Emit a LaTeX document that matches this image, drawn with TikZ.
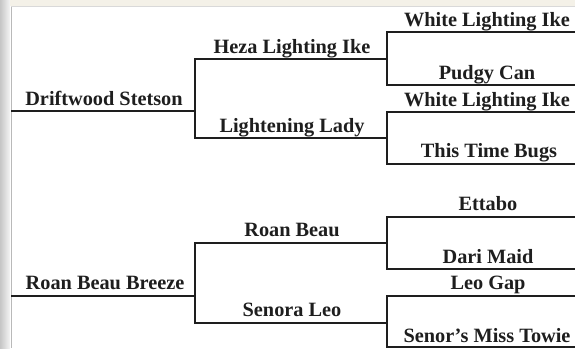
\documentclass[tikz,border=0pt]{standalone}
\usepackage{fontspec}
\setmainfont{Liberation Serif}
\definecolor{ink}{HTML}{1E1E1E}
\definecolor{cream}{HTML}{F4F1E8}
\begin{document}
\begin{tikzpicture}[x=1pt,y=-1pt,
  person/.style={font=\bfseries\fontsize{20.3}{20.3}\selectfont, anchor=base, inner sep=0pt, text=ink},
  ln/.style={line width=2pt, draw=ink, line cap=rect}]
\useasboundingbox (0,0) rectangle (575,348);
% background
\fill[white] (0,0) rectangle (575,348);
\shade[left color=gray!45, right color=gray!8] (0,0) rectangle (10,348);
\fill[cream] (10,0) rectangle (575,6);
\draw[gray!55, line width=0.8pt] (11,6) -- (11,348);
\draw[gray!30, line width=0.6pt] (11,6) -- (575,6);

% coordinates (line ends)
\coordinate (ds0) at (12,111);   \coordinate (ds1) at (195,111);
\coordinate (hz0) at (195,59);   \coordinate (hz1) at (387,59);
\coordinate (ll0) at (195,138);  \coordinate (ll1) at (387,138);
\coordinate (w10) at (387,32);   \coordinate (w11) at (575,32);
\coordinate (pc0) at (387,85);   \coordinate (pc1) at (575,85);
\coordinate (w20) at (387,112);  \coordinate (w21) at (575,112);
\coordinate (tb0) at (387,164);  \coordinate (tb1) at (575,164);
\coordinate (rb0) at (12,296);   \coordinate (rb1) at (195,296);
\coordinate (ro0) at (195,243);  \coordinate (ro1) at (387,243);
\coordinate (sl0) at (195,323);  \coordinate (sl1) at (387,323);
\coordinate (et0) at (387,217);  \coordinate (et1) at (575,217);
\coordinate (dm0) at (387,269);  \coordinate (dm1) at (575,269);
\coordinate (lg0) at (387,296);  \coordinate (lg1) at (575,296);
\coordinate (sm0) at (387,347);  \coordinate (sm1) at (575,347);

% names
\node[person] (ds) at (104,105) {Driftwood Stetson};
\node[person] (hz) at (292,53) {Heza Lighting Ike};
\node[person] (ll) at (292,132) {Lightening Lady};
\node[person] (w1) at (487,26) {White Lighting Ike};
\node[person] (pc) at (487,79) {Pudgy Can};
\node[person] (w2) at (487,106) {White Lighting Ike};
\node[person] (tb) at (489,157) {This Time Bugs};
\node[person] (rb) at (105,289) {Roan Beau Breeze};
\node[person] (ro) at (292,236) {Roan Beau};
\node[person] (sl) at (292,316) {Senora Leo};
\node[person] (et) at (488,210) {Ettabo};
\node[person] (dm) at (488,263) {Dari Maid};
\node[person] (lg) at (488,289) {Leo Gap};
\node[person] (sm) at (487,342) {Senor's Miss Towie};

% lines
\draw[ln] (ds0) -- (ds1);
\draw[ln] (hz1) -- (hz0) -- (ll0) -- (ll1);
\draw[ln] (w11) -- (w10) -- (pc0) -- (pc1);
\draw[ln] (w21) -- (w20) -- (tb0) -- (tb1);
\draw[ln] (rb0) -- (rb1);
\draw[ln] (ro1) -- (ro0) -- (sl0) -- (sl1);
\draw[ln] (et1) -- (et0) -- (dm0) -- (dm1);
\draw[ln] (lg1) -- (lg0) -- (sm0) -- (sm1);
\end{tikzpicture}
\end{document}
